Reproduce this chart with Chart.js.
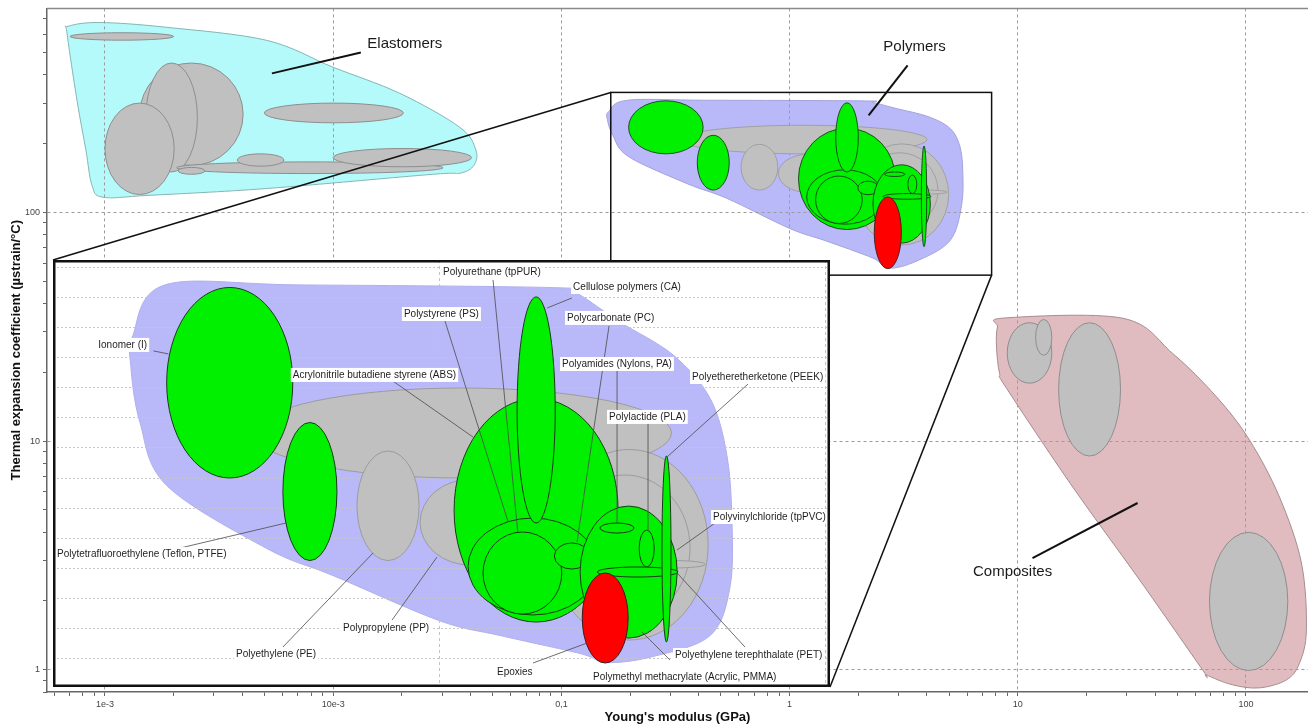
<!DOCTYPE html>
<html>
<head>
<meta charset="utf-8">
<script src="https://cdn.jsdelivr.net/npm/chart.js@4.4.1/dist/chart.umd.min.js"></script>
<style>
  html, body { margin: 0; padding: 0; background: #fff; }
  #wrap { position: relative; width: 1308px; height: 726px; overflow: hidden; }
  #mainBox { position: absolute; left: 0; top: 0; width: 1308px; height: 726px; }
  #insetBox { position: absolute; left: 53px; top: 260px; width: 777px; height: 427px; background: #fff; }
</style>
</head>
<body>
<div id="wrap">
  <div id="mainBox"><canvas id="main"></canvas></div>
  <div id="insetBox"><canvas id="inset"></canvas></div>
</div>
<script>
const FONT = "'Liberation Sans', Arial, sans-serif";
Chart.defaults.font.family = FONT;

// axis labels
const xTickValues = [1e-3, 1e-2, 0.1, 1, 10, 100];
const xTickText = ["1e-3", "10e-3", "0,1", "1", "10", "100"];
const yTickValues = [1, 10, 100];
const yTickText = ["1", "10", "100"];

// each bubble: Young's modulus range (GPa) and expansion range (µstrain/°C)
const elastomerE = [[1.42e-3, 4.03e-3], [1.51e-3, 2.54e-3], [1.0e-3, 2.01e-3], [2.06e-3, 0.0303], [2.09e-3, 2.74e-3],
  [3.8e-3, 6.08e-3], [0.01, 0.0404], [4.99e-3, 0.0203], [7.03e-4, 2.0e-3]];
const elastomerAlpha = [[160, 449], [150, 449], [119.5, 300], [147.6, 166], [146.5, 157],
  [159, 180], [158, 190], [246, 300], [565, 609]];

const compositeE = [[8.99, 14.1], [11.97, 14.1], [15.1, 28.2], [69.2, 152.5]];
const compositeAlpha = [[17.9, 32.9], [23.7, 34.0], [8.6, 32.9], [0.993, 3.99]];

// g = unlabelled/grey, p = green, r = red
const polymerKind = ["g", "g", "g", "g", "g", "g", "p", "p", "p", "p", "p", "p", "p", "p", "p", "p", "p", "p", "r"];
const polymerE = [[0.33, 4.0], [1.94, 4.98], [2.06, 4.47], [3.3, 4.9], [0.613, 0.888], [0.893, 1.62],
  [0.197, 0.418], [0.394, 0.544], [1.094, 2.91], [1.189, 2.57], [1.30, 2.08], [1.593, 2.00], [1.99, 2.45],
  [2.32, 4.14], [2.61, 3.20], [3.30, 3.61], [2.57, 4.16], [3.78, 3.99], [2.35, 3.09]];
const polymerAlpha = [[180, 240], [72, 199], [85, 182], [120, 125], [125, 198], [122, 179],
  [180, 307], [125, 217], [84, 233], [88.7, 153.3], [89.3, 144], [150, 300.7], [119.3, 136.7],
  [73.3, 161.3], [143.3, 150], [120.7, 145.3], [114, 120.7], [70.7, 194.7], [56.7, 116.7]];

// family envelopes [E, alpha]
const elastomerHull = [[6.9e-4, 650], [9.5e-4, 675], [1.87e-3, 643], [5.12e-3, 564], [0.01, 430], [0.0196, 331],
  [0.0359, 235], [0.0422, 187], [0.0413, 160], [0.0359, 148], [0.0273, 146.5], [5.12e-3, 127], [1.575e-3, 118.6],
  [9.8e-4, 116.3], [8.77e-4, 131.2], [8.25e-4, 186.6], [7.54e-4, 308], [6.82e-4, 605]];
const polymerHull = [[0.195, 308.7], [0.161, 275], [0.159, 255], [0.168, 217], [0.197, 175], [0.358, 133],
  [0.531, 115], [1.0, 85], [1.44, 75], [2.32, 63], [2.72, 57], [3.58, 61], [5.04, 75], [5.67, 107], [5.74, 151],
  [5.57, 195], [5.04, 233], [4.04, 262], [2.94, 284], [2.32, 302], [2.10, 306.7], [0.436, 308.7]];
const compositeHull = [[8.75, 34.5], [28.9, 34.4], [47.6, 24.2], [74.3, 15.6], [103.6, 10.1], [140.2, 5.69],
  [175, 2.93], [184, 1.50], [171.6, 1.07], [150.5, 0.904], [114.6, 0.834], [87.3, 0.86], [67.1, 0.951],
  [64.5, 1.0], [34.2, 2.47], [17.4, 6.30], [8.93, 17.0], [8.32, 19.8], [8.07, 25.7], [8.15, 31.5]];

// family names on the main chart
const familyText = ["Elastomers", "Polymers", "Composites"];
const familyPos = [[0.0206, 547], [3.53, 527], [9.49, 2.68]];
const familyLeaderFrom = [[5.39e-3, 404.6], [3.29, 438.5], [11.6, 3.08]];
const familyLeaderTo = [[0.01322, 499.6], [2.22, 265], [33.5, 5.36]];

// region shown enlarged
const zoomE = [0.1646, 7.68];
const zoomAlpha = [53.1, 334];

// polymer names in the enlarged view
const labelText = ["Ionomer (I)", "Acrylonitrile butadiene styrene (ABS)", "Polystyrene (PS)", "Polyurethane (tpPUR)",
  "Cellulose polymers (CA)", "Polycarbonate (PC)", "Polyamides (Nylons, PA)", "Polylactide (PLA)",
  "Polyetheretherketone (PEEK)", "Polyvinylchloride (tpPVC)", "Polyethylene terephthalate (PET)",
  "Polymethyl methacrylate (Acrylic, PMMA)", "Epoxies", "Polytetrafluoroethylene (Teflon, PTFE)",
  "Polyethylene (PE)", "Polypropylene (PP)"];
const labelPos = [[0.131, 268.7], [0.418, 248.7], [0.811, 289.3], [1.024, 317.3], [2.225, 307.3], [2.146, 286.7],
  [2.083, 256], [2.757, 220.7], [4.523, 247.3], [5.128, 154], [4.087, 62], [2.506, 47.3], [1.413, 50.7],
  [0.1024, 129.3], [0.298, 62.7], [0.564, 80]];
const labelFrom = [[0.182, 264.7], [0.746, 246], [1.036, 284.7], [1.38, 312], [2.21, 300], [2.757, 281.3],
  [2.892, 251.3], [3.479, 216], [6.32, 242.7], [5.19, 150], [6.204, 67.3], [3.967, 58.7], [1.752, 56.7],
  [0.2133, 133.3], [0.394, 67.3], [0.7555, 85.3]];
const labelTo = [[0.199, 262.7], [1.225, 207.3], [1.51, 150.7], [1.60, 144], [1.905, 293.3], [2.278, 137.3],
  [2.892, 150], [3.479, 144.7], [3.897, 194], [4.137, 132], [4.137, 116.7], [3.357, 77.3], [2.418, 70],
  [0.4015, 150], [0.6745, 130], [0.988, 127.3]];

const KIND_FILL = { g: "#c0c0c0", p: "#00f000", r: "#ff0000" };
const KIND_STROKE = { g: "#9c9c9c", p: "#1b3b1b", r: "#3b1b1b" };

function isDecade(v) {
  if (!v) return false;
  const l = Math.log10(v);
  return Math.abs(l - Math.round(l)) < 1e-6;
}

function logTicks(min, max) {
  const ticks = [];
  for (let e = Math.floor(Math.log10(min)); e <= Math.ceil(Math.log10(max)); e++) {
    for (let m = 1; m <= 9; m++) {
      const v = parseFloat((m * Math.pow(10, e)).toPrecision(6));
      if (v >= min && v <= max) ticks.push({ value: v });
    }
  }
  return ticks;
}

function tickLabel(values, texts) {
  return v => {
    const i = values.findIndex(t => Math.abs(t - v) / t < 1e-6);
    return i >= 0 ? texts[i] : "";
  };
}

function px(chart, p) {
  return [chart.scales.x.getPixelForValue(p[0]), chart.scales.y.getPixelForValue(p[1])];
}

function drawHull(chart, pts, fill, stroke) {
  const ctx = chart.ctx;
  const xy = pts.map(p => px(chart, p));
  const n = xy.length;
  ctx.beginPath();
  ctx.moveTo(xy[0][0], xy[0][1]);
  for (let i = 0; i < n; i++) {
    const p0 = xy[(i - 1 + n) % n], p1 = xy[i], p2 = xy[(i + 1) % n], p3 = xy[(i + 2) % n];
    ctx.bezierCurveTo(p1[0] + (p2[0] - p0[0]) / 6, p1[1] + (p2[1] - p0[1]) / 6,
      p2[0] - (p3[0] - p1[0]) / 6, p2[1] - (p3[1] - p1[1]) / 6, p2[0], p2[1]);
  }
  ctx.closePath();
  ctx.fillStyle = fill;
  ctx.fill();
  ctx.strokeStyle = stroke;
  ctx.lineWidth = 1;
  ctx.stroke();
}

function drawEllipses(chart, eRanges, aRanges, fillOf, strokeOf, lw) {
  const { ctx, scales: { x, y } } = chart;
  eRanges.forEach((er, i) => {
    const x0 = x.getPixelForValue(er[0]), x1 = x.getPixelForValue(er[1]);
    const y0 = y.getPixelForValue(aRanges[i][0]), y1 = y.getPixelForValue(aRanges[i][1]);
    ctx.beginPath();
    ctx.ellipse((x0 + x1) / 2, (y0 + y1) / 2, Math.abs(x1 - x0) / 2, Math.abs(y1 - y0) / 2, 0, 0, Math.PI * 2);
    ctx.fillStyle = fillOf(i);
    ctx.fill();
    ctx.strokeStyle = strokeOf(i);
    ctx.lineWidth = lw;
    ctx.stroke();
  });
}

function clipArea(ctx, a) {
  ctx.beginPath();
  ctx.rect(a.left, a.top, a.right - a.left, a.bottom - a.top);
  ctx.clip();
}

function line(ctx, a, b, color, width) {
  ctx.beginPath();
  ctx.moveTo(a[0], a[1]);
  ctx.lineTo(b[0], b[1]);
  ctx.strokeStyle = color;
  ctx.lineWidth = width;
  ctx.stroke();
}

const mainLayer = {
  id: "mainLayer",
  beforeDraw(chart) {
    const { ctx, chartArea } = chart;
    ctx.save();
    ctx.fillStyle = "#fff";
    ctx.fillRect(0, 0, chart.width, chart.height);
    clipArea(ctx, chartArea);
    drawHull(chart, elastomerHull, "#b4fafa", "#86b6b6");
    drawHull(chart, polymerHull, "#b9b9f9", "#a4a4de");
    drawHull(chart, compositeHull, "#e0bcc0", "#a88c90");
    ctx.restore();
  },
  afterDatasetsDraw(chart) {
    const { ctx, chartArea } = chart;
    ctx.save();
    clipArea(ctx, chartArea);
    drawEllipses(chart, elastomerE, elastomerAlpha, () => "#c0c0c0", () => "#8e8e8e", 1);
    drawEllipses(chart, polymerE, polymerAlpha, i => KIND_FILL[polymerKind[i]], i => KIND_STROKE[polymerKind[i]], 0.9);
    drawEllipses(chart, compositeE, compositeAlpha, () => "#c0c0c0", () => "#8e8e8e", 1);
    ctx.restore();
  },
  afterDraw(chart) {
    const { ctx, chartArea } = chart;
    ctx.save();
    line(ctx, [chartArea.left, chartArea.top], [chartArea.right, chartArea.top], "#8a8a8a", 1.5);

    // enlarged region and its connectors
    const tl = px(chart, [zoomE[0], zoomAlpha[1]]);
    const br = px(chart, [zoomE[1], zoomAlpha[0]]);
    ctx.strokeStyle = "#111";
    ctx.lineWidth = 1.5;
    ctx.strokeRect(tl[0], tl[1], br[0] - tl[0], br[1] - tl[1]);
    const box = document.getElementById("insetBox");
    const bl = box.offsetLeft, bt = box.offsetTop;
    line(ctx, tl, [bl, bt], "#111", 1.5);
    line(ctx, br, [bl + box.offsetWidth, bt + box.offsetHeight], "#111", 1.5);

    // family names
    familyText.forEach((t, i) => {
      line(ctx, px(chart, familyLeaderFrom[i]), px(chart, familyLeaderTo[i]), "#111", 2);
      const p = px(chart, familyPos[i]);
      ctx.font = `15px ${FONT}`;
      ctx.fillStyle = "#1a1a1a";
      ctx.textAlign = "center";
      ctx.textBaseline = "middle";
      ctx.fillText(t, p[0], p[1]);
    });
    ctx.restore();
  }
};

new Chart(document.getElementById("main"), {
  type: "scatter",
  data: { datasets: [] },
  options: {
    responsive: true,
    maintainAspectRatio: false,
    animation: false,
    layout: { padding: { top: 8, right: 0, bottom: 0, left: 0 } },
    plugins: { legend: { display: false }, tooltip: { enabled: false } },
    scales: {
      x: {
        type: "logarithmic",
        min: 5.57e-4,
        max: 187,
        afterBuildTicks: axis => { axis.ticks = logTicks(axis.min, axis.max); },
        afterFit: axis => { axis.height = 34; },
        ticks: { autoSkip: false, maxRotation: 0, padding: 3, color: "#444", font: { size: 9 },
          callback: tickLabel(xTickValues, xTickText) },
        grid: { color: c => isDecade(c.tick && c.tick.value) ? "#9c9c9c" : "rgba(0,0,0,0)",
          tickColor: "#666", tickLength: 4, lineWidth: 1 },
        border: { display: true, color: "#666", width: 1.5, dash: [3, 3] },
        title: { display: true, text: "Young's modulus (GPa)", color: "#111",
          font: { size: 13, weight: "bold" }, padding: { top: 0, bottom: 1 } }
      },
      y: {
        type: "logarithmic",
        min: 0.80,
        max: 778,
        afterBuildTicks: axis => { axis.ticks = logTicks(axis.min, axis.max); },
        afterFit: axis => { axis.width = 47; },
        ticks: { autoSkip: false, padding: 3, color: "#444", font: { size: 9 },
          callback: tickLabel(yTickValues, yTickText) },
        grid: { color: c => isDecade(c.tick && c.tick.value) ? "#9c9c9c" : "rgba(0,0,0,0)",
          tickColor: "#666", tickLength: 4, lineWidth: 1 },
        border: { display: true, color: "#666", width: 1.5, dash: [3, 3] },
        title: { display: true, text: "Thermal expansion coefficient (µstrain/°C)", color: "#111",
          font: { size: 13, weight: "bold" }, padding: { top: 9, bottom: 0 } }
      }
    }
  },
  plugins: [mainLayer]
});

// enlarged polymer view: log modulus, linear expansion
const insetLayer = {
  id: "insetLayer",
  beforeDraw(chart) {
    const { ctx } = chart;
    ctx.save();
    ctx.fillStyle = "#fff";
    ctx.fillRect(0, 0, chart.width, chart.height);
    drawHull(chart, polymerHull, "#b9b9f9", "#b0b0ee");
    ctx.restore();
  },
  afterDatasetsDraw(chart) {
    const { ctx, chartArea } = chart;
    ctx.save();
    clipArea(ctx, chartArea);
    drawEllipses(chart, polymerE, polymerAlpha, i => KIND_FILL[polymerKind[i]], i => KIND_STROKE[polymerKind[i]], 1);
    labelText.forEach((t, i) => {
      line(ctx, px(chart, labelFrom[i]), px(chart, labelTo[i]), "#4a4a4a", 0.8);
    });
    ctx.font = `10px ${FONT}`;
    ctx.textBaseline = "middle";
    ctx.textAlign = "left";
    labelText.forEach((t, i) => {
      const p = px(chart, labelPos[i]);
      const w = ctx.measureText(t).width;
      ctx.fillStyle = "#fff";
      ctx.fillRect(p[0] - 2, p[1] - 7, w + 4, 14);
      ctx.fillStyle = "#1e1e1e";
      ctx.fillText(t, p[0], p[1]);
    });
    ctx.restore();
  },
  afterDraw(chart) {
    const { ctx } = chart;
    ctx.save();
    ctx.strokeStyle = "#111";
    ctx.lineWidth = 2.5;
    ctx.strokeRect(1.25, 1.25, chart.width - 2.5, chart.height - 2.5);
    ctx.restore();
  }
};

new Chart(document.getElementById("inset"), {
  type: "scatter",
  data: { datasets: [] },
  options: {
    responsive: true,
    maintainAspectRatio: false,
    animation: false,
    layout: { padding: 0 },
    plugins: { legend: { display: false }, tooltip: { enabled: false } },
    scales: {
      x: {
        type: "logarithmic",
        min: 0.1,
        max: 10.3,
        afterBuildTicks: axis => { axis.ticks = [0.1, 1, 10].map(v => ({ value: v })); },
        afterFit: axis => { axis.height = 0; },
        ticks: { display: false },
        grid: { drawTicks: false, color: "#c2c2c2", lineWidth: 1 },
        border: { display: false, dash: [3, 3] }
      },
      y: {
        type: "linear",
        min: 40.7,
        max: 325.3,
        afterBuildTicks: axis => {
          const t = [];
          for (let v = 60; v <= 320; v += 20) t.push({ value: v });
          axis.ticks = t;
        },
        afterFit: axis => { axis.width = 0; },
        ticks: { display: false },
        grid: { drawTicks: false, color: "#c6c6c6", lineWidth: 1 },
        border: { display: false, dash: [2, 2] }
      }
    }
  },
  plugins: [insetLayer]
});
</script>
</body>
</html>
